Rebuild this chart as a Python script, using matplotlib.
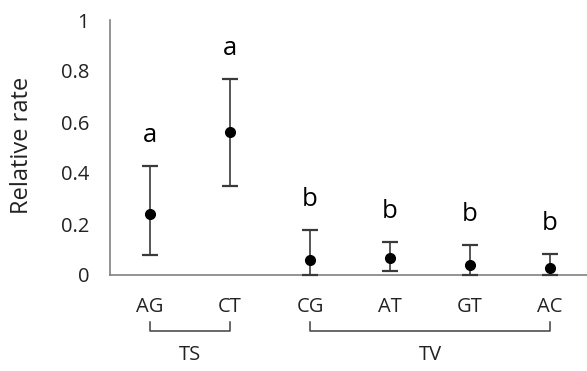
import matplotlib
matplotlib.use("Agg")
import matplotlib.pyplot as plt
from matplotlib.transforms import blended_transform_factory

categories = ["AG", "CT", "CG", "AT", "GT", "AC"]
means = [0.238, 0.56, 0.059, 0.067, 0.038, 0.029]
upper = [0.427, 0.767, 0.175, 0.129, 0.119, 0.081]
lower = [0.077, 0.348, 0.0, 0.015, 0.0, 0.0]
letters = ["a", "a", "b", "b", "b", "b"]
groups = [("TS", 0, 1), ("TV", 2, 5)]
yticks = [0, 0.2, 0.4, 0.6, 0.8, 1.0]
yticklabels = ["0", "0.2", "0.4", "0.6", "0.8", "1"]

plt.rcParams['font.family'] = ['Open Sans', 'DejaVu Sans']

W, H = 587, 371
fig = plt.figure(figsize=(W / 100, H / 100), dpi=100)
ax = fig.add_axes([110 / W, 1 - 275 / H, 477 / W, 255 / H])

xs = [i + 0.5 for i in range(len(categories))]
yerr = [[m - l for m, l in zip(means, lower)], [u - m for u, m in zip(upper, means)]]
ax.errorbar(xs, means, yerr=yerr, fmt='o', color='black', ecolor='#3a3a3a',
            elinewidth=1.2, capsize=6, capthick=1.6, markersize=7, clip_on=False, zorder=3)

for x, u, t in zip(xs, upper, letters):
    ax.text(x, u + 0.12, t, ha='center', va='center', fontsize=18.5, color='black')

ax.set_xlim(0, 477 / 80)
ax.set_ylim(0, 1)
ax.set_yticks(yticks)
ax.set_yticklabels(yticklabels, fontsize=14.5, color='#222222')
ax.tick_params(axis='y', length=0, pad=15)
ax.set_xticks([])
for s in ['top', 'right']:
    ax.spines[s].set_visible(False)
for s in ['left', 'bottom']:
    ax.spines[s].set_color('#808080')
    ax.spines[s].set_linewidth(1.2)

tr = blended_transform_factory(ax.transData, ax.transAxes)
for x, c in zip(xs, categories):
    ax.text(x, -0.125, c, ha='center', va='center', fontsize=14.5, color='#222222', transform=tr)

for name, i0, i1 in groups:
    x0, x1 = xs[i0], xs[i1]
    ax.plot([x0, x0, x1, x1], [-0.184, -0.2196, -0.2196, -0.184], color='#404040',
            lw=1.1, transform=tr, clip_on=False)
    ax.text((x0 + x1) / 2, -0.3137, name, ha='center', va='center', fontsize=14.5,
            color='#222222', transform=tr)

fig.text(22 / W, 1 - 145 / H, "Relative rate", rotation=90, ha='center', va='center',
         fontsize=17, color='#222222')

fig.savefig("out.png", dpi=100)
